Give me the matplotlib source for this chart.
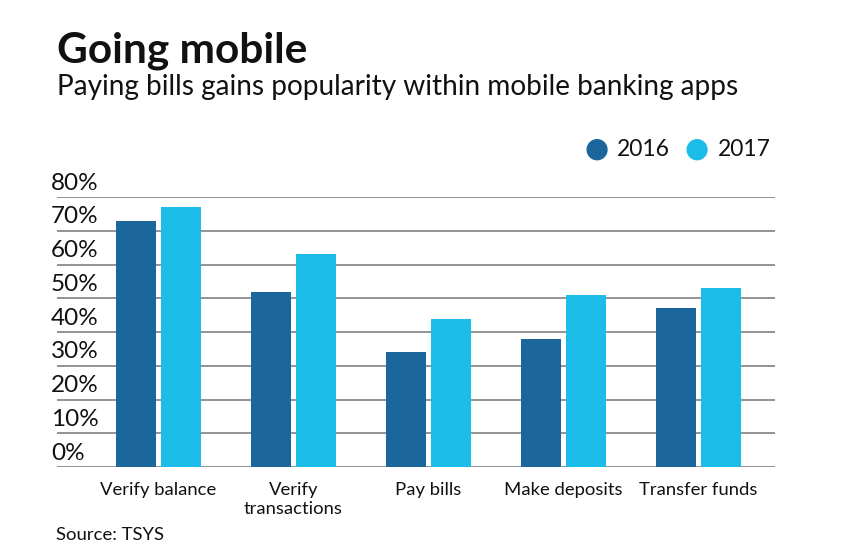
import matplotlib.pyplot as plt
import matplotlib.transforms as mtransforms
import numpy as np

categories = ['Verify balance', 'Verify\ntransactions', 'Pay bills', 'Make deposits', 'Transfer funds']
values_2016 = [73, 52, 34, 38, 47]
values_2017 = [77, 63, 44, 51, 53]
series_names = ['2016', '2017']
y_ticks = [0, 10, 20, 30, 40, 50, 60, 70, 80]

DARK = '#1b679d'
LIGHT = '#1cbce8'
FONT = 'Lato'

plt.rcParams['font.family'] = [FONT, 'DejaVu Sans']

fig = plt.figure(figsize=(8.44, 5.5), dpi=100)
ax = fig.add_axes([57/844, 1 - 467/550, (775-57)/844, (467-197)/550])

x = np.arange(len(categories))
w = 0.296
off = 0.167
ax.bar(x - off, values_2016, w, color=DARK, zorder=3)
ax.bar(x + off, values_2017, w, color=LIGHT, zorder=3)

ax.set_xlim(-0.752, 4.567)
ax.set_ylim(0, 80)

# gridlines
for t in y_ticks:
    ax.axhline(t, color='#8a8a8a', lw=1.3, zorder=1)

for s in ax.spines.values():
    s.set_visible(False)
ax.set_yticks([])
ax.set_xticks(x)
ax.set_xticklabels(categories, fontsize=13.3, color='#111111', linespacing=1.2, va='top')
ax.tick_params(axis='x', length=0, pad=11)

# y labels sit above gridlines, left aligned
trans = mtransforms.blended_transform_factory(fig.transFigure, ax.transData)
for t in y_ticks:
    ax.text(51/844, t + 1.0, f'{t}%', transform=trans, ha='left', va='bottom',
            fontsize=17.5, color='#111111')

# title and subtitle
fig.text(57/844, 1 - 62/550, 'Going mobile', fontsize=30.5, fontweight='bold', color='#111111')
fig.text(57/844, 1 - 95/550, 'Paying bills gains popularity within mobile banking apps',
         fontsize=20.2, color='#111111')

# legend
leg_y = 1 - 149/550
fig.text(597/844, leg_y, '\u25cf', color=DARK, fontsize=20, ha='center', va='center',
         family='DejaVu Sans')
fig.text(617/844, leg_y, series_names[0], fontsize=16.5, ha='left', va='center', color='#111111')
fig.text(697/844, leg_y, '\u25cf', color=LIGHT, fontsize=20, ha='center', va='center',
         family='DejaVu Sans')
fig.text(718/844, leg_y, series_names[1], fontsize=16.5, ha='left', va='center', color='#111111')

fig.text(56/844, 1 - 540/550, 'Source: TSYS', fontsize=13.3, color='#111111')

fig.savefig('out.png', dpi=100)
